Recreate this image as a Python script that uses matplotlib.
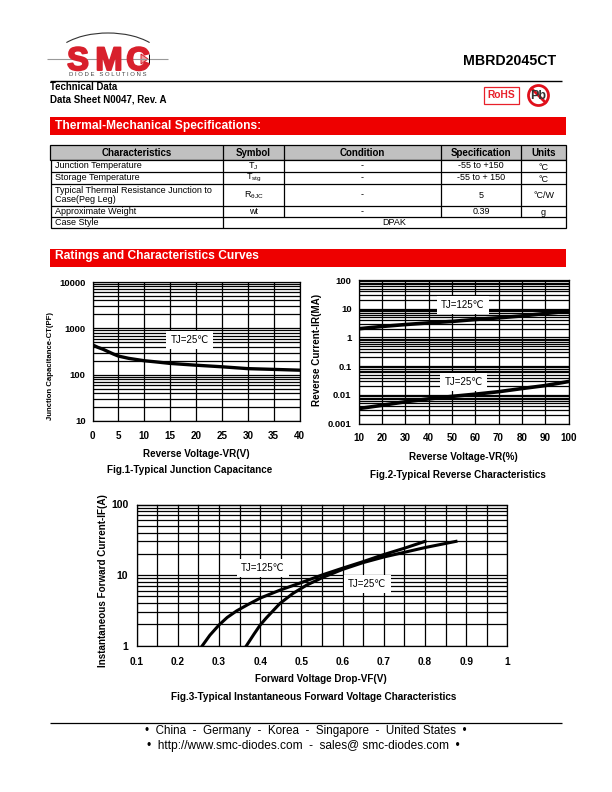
import numpy as np
import matplotlib
matplotlib.use("Agg")
import matplotlib.pyplot as plt
import matplotlib.patheffects as pe
from matplotlib.patches import Rectangle, Circle, Arc, Polygon

plt.rcParams['font.family'] = ['Liberation Sans', 'DejaVu Sans']
plt.rcParams['mathtext.fontset'] = 'custom'
plt.rcParams['mathtext.rm'] = 'Liberation Sans'

W = 612
H = 792

# table text
table_header = ["Characteristics", "Symbol", "Condition", "Specification", "Units"]
table_chars = ["Junction Temperature", "Storage Temperature",
               "Typical Thermal Resistance Junction to\nCase(Peg Leg)",
               "Approximate Weight", "Case Style"]
table_symbols = ["T$_{\\mathrm{J}}$", "T$_{\\mathrm{stg}}$", "R$_{\\mathrm{\\theta JC}}$", "wt"]
table_specs = ["-55 to +150", "-55 to + 150", "5", "0.39"]
table_units = ["°C", "°C", "°C/W", "g"]
case_style = "DPAK"

# fig 1
cap_v = [0, 1, 2, 3, 4, 5, 7, 10, 12, 15, 20, 25, 30, 35, 40]
cap_pf = [440, 390, 355, 315, 280, 252, 225, 200, 190, 175, 160, 148, 135, 130, 125]
cap_xticks = [0, 5, 10, 15, 20, 25, 30, 35, 40]
cap_yticks = [10, 100, 1000, 10000]
cap_ylabels = ["10", "100", "1000", "10000"]

# fig 2
rev_pct = [10, 20, 30, 40, 50, 60, 70, 80, 90, 100]
rev_125 = [2.0, 2.4, 2.8, 3.2, 3.6, 4.2, 4.8, 5.6, 6.8, 8.2]
rev_25 = [0.0033, 0.0043, 0.0057, 0.0072, 0.0088, 0.0105, 0.0128, 0.0165, 0.021, 0.029]
rev_xticks = [10, 20, 30, 40, 50, 60, 70, 80, 90, 100]
rev_yticks = [0.001, 0.01, 0.1, 1, 10, 100]
rev_ylabels = ["0.001", "0.01", "0.1", "1", "10", "100"]

# fig 3
fwd_v_125 = [0.26, 0.278, 0.30, 0.32, 0.343, 0.37, 0.40, 0.448, 0.505, 0.55, 0.60, 0.65, 0.70, 0.75, 0.80]
fwd_i_125 = [1.0, 1.4, 1.95, 2.5, 3.1, 3.8, 4.7, 6.1, 8.0, 10.0, 12.5, 15.5, 19.5, 24.0, 30.0]
fwd_v_25 = [0.367, 0.385, 0.40, 0.416, 0.448, 0.48, 0.513, 0.553, 0.60, 0.65, 0.70, 0.75, 0.80, 0.875]
fwd_i_25 = [1.0, 1.45, 1.95, 2.5, 3.95, 5.5, 7.2, 9.3, 12.0, 15.0, 18.0, 21.0, 24.5, 30.0]
fwd_major = [0.1, 0.2, 0.3, 0.4, 0.5, 0.6, 0.7, 0.8, 0.9, 1.0]
fwd_xlabels = ["0.1", "0.2", "0.3", "0.4", "0.5", "0.6", "0.7", "0.8", "0.9", "1"]
fwd_grid = [0.15, 0.25, 0.35, 0.45, 0.55, 0.65, 0.75, 0.85, 0.95]
fwd_yticks = [1, 10, 100]
fwd_ylabels = ["1", "10", "100"]

fig = plt.figure(figsize=(W / 100, H / 100), dpi=100)

# page overlay in pixel coordinates
page = fig.add_axes([0, 0, 1, 1])
page.set_xlim(0, W)
page.set_ylim(H, 0)
page.axis("off")


def hline(x0, x1, y, lw=1.0, color="black"):
    page.plot([x0, x1], [y, y], color=color, lw=lw, solid_capstyle="butt")


def vline(x, y0, y1, lw=0.9):
    page.plot([x, x], [y0, y1], color="black", lw=lw, solid_capstyle="butt")


# logo
page.add_patch(Arc((108, 62), 112, 58, theta1=205, theta2=335, color="#333333", lw=0.8))
hline(47, 168, 59, lw=0.8, color="#999999")
smc_red = "#d8202c"
for cx, letter in [(78, "S"), (109, "M"), (138, "C")]:
    t = page.text(cx, 70, letter, color=smc_red, fontsize=23.5, fontweight="bold", ha="center", va="baseline")
    t.set_path_effects([pe.withStroke(linewidth=1.4, foreground=smc_red)])
page.add_patch(Polygon([(141, 54), (141, 64), (148, 59)], fc="#f0a0a0", ec=smc_red, lw=0.7))
vline(148.5, 54, 64, lw=0.7)
page.text(108, 74, "D I O D E   S O L U T I O N S", color="#444444", fontsize=4.3, ha="center", va="center")

hline(50, 562, 80.5, lw=1.0)
page.text(463, 61, "MBRD2045CT", fontsize=10.2, fontweight="bold", va="center")
page.text(50.5, 87, "Technical Data", fontsize=6.9, fontweight="bold", va="center")
page.text(50.5, 99, "Data Sheet N0047, Rev. A", fontsize=7.0, fontweight="bold", va="center")

# rohs / pb marks
page.add_patch(Rectangle((484, 86.5), 35, 17.5, fc="white", ec="#e8202a", lw=0.9))
page.text(501.5, 95.5, "RoHS", color="#e8202a", fontsize=7.4, fontweight="bold", ha="center", va="center")
page.text(538.5, 96, "Pb", color="#333333", fontsize=9, ha="center", va="center", fontweight="bold")
page.add_patch(Circle((538.5, 95.5), 10, fc="none", ec="#e0101c", lw=2.0))
page.plot([531.5, 545.5], [88.5, 102.5], color="#e0101c", lw=2.0)

# section bars
for y0, y1, label, ty in [(117, 135, "Thermal-Mechanical Specifications:", 126),
                          (249, 267, "Ratings and Characteristics Curves", 255.5)]:
    page.add_patch(Rectangle((50, y0), 516, y1 - y0, fc="#ee0000", ec="none"))
    page.text(55, ty, label, color="white", fontsize=8.65, fontweight="bold", va="center")

# table
col_x = [50, 223, 284, 441, 521, 566]
row_y = [160, 172, 184, 206, 217, 228]
page.add_patch(Rectangle((col_x[0], 144.5), col_x[-1] - col_x[0], 15.5, fc="#c0c0c0", ec="black", lw=0.9))
for i, label in enumerate(table_header):
    cx = (col_x[i] + col_x[i + 1]) / 2
    page.text(cx, 152.5, label, fontsize=7.0, fontweight="bold", ha="center", va="center")
    if i > 0:
        vline(col_x[i], 144.5, 160)
page.add_patch(Rectangle((51, 160), 515, 68, fc="white", ec="black", lw=0.9))
for y in row_y[1:-1]:
    hline(51, 566, y, lw=0.9)
for x in col_x[1:-1]:
    vline(x, 160, 217)
vline(223, 217, 228)
for i, label in enumerate(table_chars):
    cy = (row_y[i] + row_y[i + 1]) / 2
    page.text(55, cy, label, fontsize=6.5, va="center", linespacing=1.05)
for i in range(4):
    cy = (row_y[i] + row_y[i + 1]) / 2
    page.text((col_x[1] + col_x[2]) / 2, cy, table_symbols[i], fontsize=6.5, ha="center", va="center")
    page.text((col_x[2] + col_x[3]) / 2, cy, "-", fontsize=6.5, ha="center", va="center")
    page.text((col_x[3] + col_x[4]) / 2, cy, table_specs[i], fontsize=6.5, ha="center", va="center")
    page.text((col_x[4] + col_x[5]) / 2, cy + 1, table_units[i], fontsize=6.5, ha="center", va="center")
page.text(394, 222.5, case_style, fontsize=6.5, ha="center", va="center")

# footer
hline(50, 562, 723, lw=0.9)
page.text(306, 731, "•  China  -  Germany  -  Korea  -  Singapore  -  United States  •",
          fontsize=8.4, ha="center", va="center")
page.text(303, 746, "•  http://www.smc-diodes.com  -  sales@ smc-diodes.com  •",
          fontsize=8.55, ha="center", va="center")


def make_axes(left, right, top, bottom):
    ax = fig.add_axes([left / W, 1 - bottom / H, (right - left) / W, (bottom - top) / H])
    ax.set_yscale("log")
    ax.tick_params(which="both", length=0)
    ax.grid(True, which="major", axis="both", color="black", lw=0.9)
    ax.yaxis.set_minor_locator(matplotlib.ticker.LogLocator(base=10, subs=range(2, 10), numticks=12))
    ax.yaxis.set_minor_formatter(matplotlib.ticker.NullFormatter())
    ax.grid(True, which="minor", axis="y", color="black", lw=0.9)
    ax.set_axisbelow(True)
    for s in ax.spines.values():
        s.set_linewidth(0.9)
    return ax


def tick_fonts(ax, xsize=7.1, ysize=6.8, xpad=7, ypad=5):
    ax.tick_params(axis="x", which="major", pad=xpad)
    ax.tick_params(axis="y", which="major", pad=ypad)
    for t in ax.get_xticklabels():
        t.set_fontsize(xsize)
        t.set_fontweight("bold")
    for t in ax.get_yticklabels():
        t.set_fontsize(ysize)
        t.set_fontweight("bold")


def note(ax, x, y, s):
    ax.text(x, y, s, fontsize=7.0, ha="center", va="center", zorder=5,
            bbox=dict(fc="white", ec="none", pad=3))


# Fig.1
ax1 = make_axes(92.5, 299.5, 282, 421)
ax1.plot(cap_v, cap_pf, color="black", lw=2.4, zorder=4)
ax1.set_xlim(0, 40)
ax1.set_ylim(10, 10000)
ax1.set_xticks(cap_xticks)
ax1.set_yticks(cap_yticks, cap_ylabels)
tick_fonts(ax1)
note(ax1, 18.8, 560, "TJ=25℃")
page.text(196, 454, "Reverse Voltage-VR(V)", fontsize=7.1, fontweight="bold", ha="center", va="center")
page.text(189.5, 470, "Fig.1-Typical Junction Capacitance", fontsize=7.15, fontweight="bold", ha="center", va="center")
page.text(50, 365.5, "Junction Capacitance-CT(PF)", fontsize=5.6, fontweight="bold", ha="center", va="center", rotation=90)

# Fig.2
ax2 = make_axes(358.5, 568.5, 280, 423.5)
ax2.plot(rev_pct, rev_125, color="black", lw=2.6, zorder=4)
ax2.plot(rev_pct, rev_25, color="black", lw=2.6, zorder=4)
ax2.set_xlim(10, 100)
ax2.set_ylim(0.001, 100)
ax2.set_xticks(rev_xticks)
ax2.set_yticks(rev_yticks, rev_ylabels)
tick_fonts(ax2, xpad=7)
note(ax2, 54.6, 13.5, "TJ=125℃")
note(ax2, 55, 0.028, "TJ=25℃")
page.text(463, 457, "Reverse Voltage-VR(%)", fontsize=7.1, fontweight="bold", ha="center", va="center")
page.text(457.5, 475, "Fig.2-Typical Reverse Characteristics", fontsize=7.15, fontweight="bold", ha="center", va="center")
page.text(317.5, 350, "Reverse Current-IR(MA)", fontsize=7.15, fontweight="bold", ha="center", va="center", rotation=90)

# Fig.3
ax3 = make_axes(136.5, 507.5, 504.5, 645.5)
ax3.plot(fwd_v_125, fwd_i_125, color="black", lw=2.2, zorder=4)
ax3.plot(fwd_v_25, fwd_i_25, color="black", lw=2.2, zorder=4)
ax3.set_xlim(0.1, 1)
ax3.set_ylim(1, 100)
ax3.set_xticks(fwd_major, fwd_xlabels)
ax3.set_xticks(fwd_grid, minor=True)
ax3.xaxis.set_minor_formatter(matplotlib.ticker.NullFormatter())
ax3.grid(True, which="minor", axis="x", color="black", lw=0.9)
ax3.set_yticks(fwd_yticks, fwd_ylabels)
tick_fonts(ax3, xsize=7.3, ysize=7.5, xpad=8, ypad=6)
note(ax3, 0.407, 12.6, "TJ=125℃")
note(ax3, 0.66, 7.5, "TJ=25℃")
page.text(321, 679, "Forward Voltage Drop-VF(V)", fontsize=7.1, fontweight="bold", ha="center", va="center")
page.text(314, 697.5, "Fig.3-Typical Instantaneous Forward Voltage Characteristics", fontsize=7.2, fontweight="bold", ha="center", va="center")
page.text(103.5, 581, "Instantaneous Forward Current-IF(A)", fontsize=7.15, fontweight="bold", ha="center", va="center", rotation=90)

page.set_zorder(3)
page.patch.set_alpha(0)

fig.savefig("out.png", dpi=100)
